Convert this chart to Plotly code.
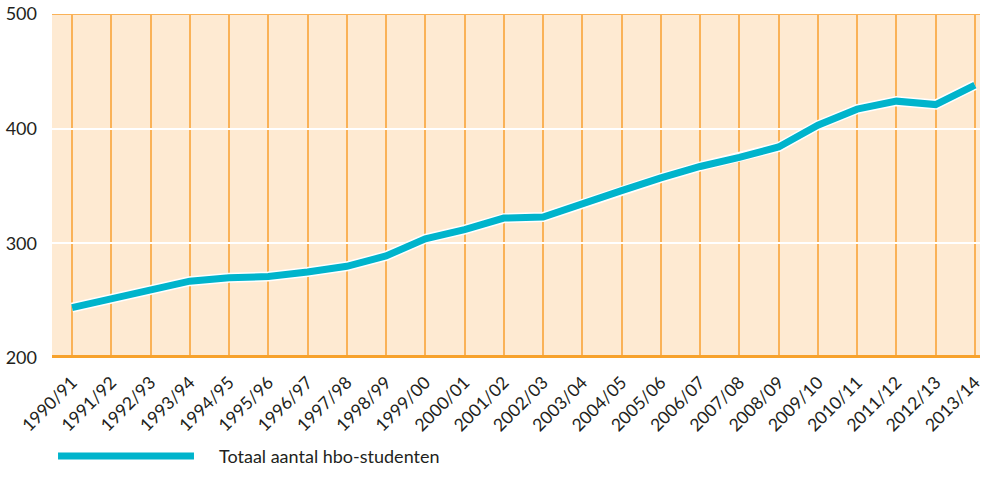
import plotly.graph_objects as go

years = ["1990/91","1991/92","1992/93","1993/94","1994/95","1995/96","1996/97","1997/98",
         "1998/99","1999/00","2000/01","2001/02","2002/03","2003/04","2004/05","2005/06",
         "2006/07","2007/08","2008/09","2009/10","2010/11","2011/12","2012/13","2013/14"]
students = [244, 252, 259, 267, 270, 271, 275, 280, 289, 304, 312, 322, 323, 335, 346, 357,
            367, 375, 384, 403, 417, 424, 421, 438]
y_ticks = [200, 300, 400, 500]
series_name = "Totaal aantal hbo-studenten"

ORANGE = "#F7A22C"
GRID = "#FAB257"
CYAN = "#00B4CC"
BG = "#FEEAD2"
FONT = "Lato"

fig = go.Figure()
fig.add_trace(go.Scatter(x=years, y=students, mode="lines",
                         line=dict(color="white", width=10), hoverinfo="skip", showlegend=False))
fig.add_trace(go.Scatter(x=years, y=students, mode="lines", name=series_name,
                         line=dict(color=CYAN, width=7), showlegend=False))

fig.update_layout(
    width=984, height=493,
    margin=dict(l=52, r=4, t=14, b=135),
    paper_bgcolor="white", plot_bgcolor=BG,
    font=dict(family=FONT, color="#231F20", size=16),
    xaxis=dict(type="category", range=[-0.51, 23.13], showgrid=True, gridcolor=GRID,
               gridwidth=2, tickangle=-45, tickfont=dict(size=17.5), ticks="",
               ticklabelstandoff=10,
               showline=False, zeroline=False, automargin=False, ticklabeloverflow="allow"),
    yaxis=dict(range=[200, 500], tickvals=y_ticks, showgrid=True, gridcolor="white",
               gridwidth=1.5, tickfont=dict(size=18), ticks="", ticklabelstandoff=14,
               showline=False, zeroline=False, automargin=False, ticklabeloverflow="allow"),
    shapes=[
        dict(type="line", xref="paper", yref="y", x0=0, x1=1, y0=500, y1=500,
             line=dict(color=GRID, width=2)),
        dict(type="line", xref="paper", yref="y", x0=0, x1=1, y0=200, y1=200,
             line=dict(color=ORANGE, width=6)),
        dict(type="line", xref="paper", yref="paper", x0=0.0065, x1=0.153, y0=-0.285, y1=-0.285,
             line=dict(color=CYAN, width=7)),
    ],
    annotations=[
        dict(text=series_name, xref="paper", yref="paper", x=0.178, y=-0.285,
             xanchor="left", yanchor="middle", showarrow=False, font=dict(size=18)),
    ],
)
fig.write_html("out.html", config={"displayModeBar": False},
               post_script="document.body.style.margin='0';document.body.style.overflow='hidden';")
